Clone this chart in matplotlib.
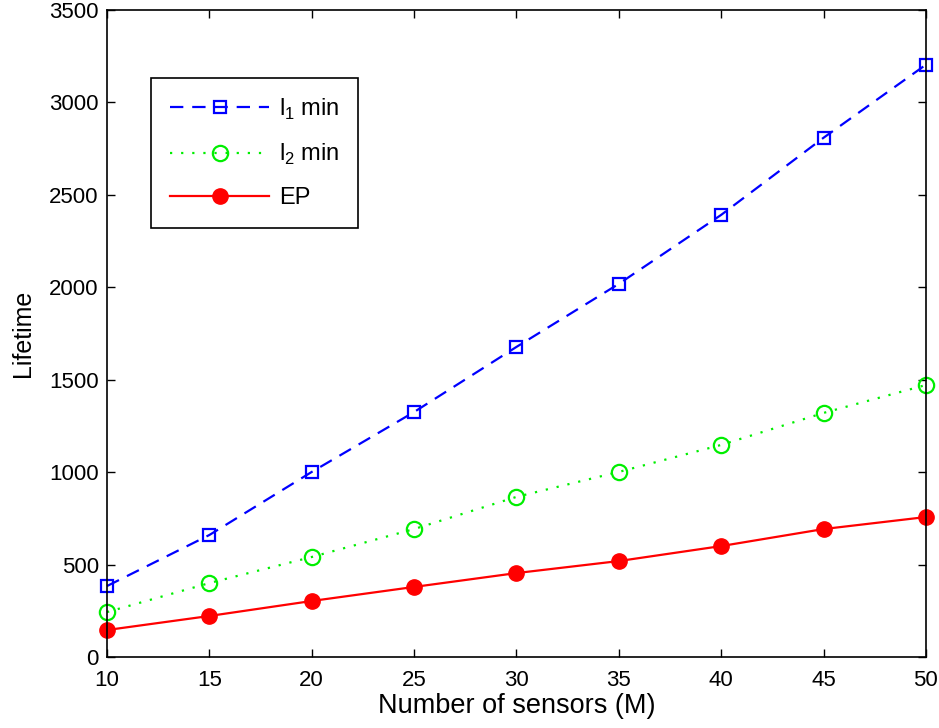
import matplotlib
matplotlib.use("Agg")
import matplotlib.pyplot as plt

plt.rcParams['font.family'] = ['Liberation Sans', 'DejaVu Sans']
plt.rcParams['mathtext.fontset'] = 'custom'
plt.rcParams['mathtext.rm'] = 'Liberation Sans'

sensors = [10, 15, 20, 25, 30, 35, 40, 45, 50]
l1_min = [384, 660, 1001, 1325, 1677, 2018, 2391, 2808, 3203]
l2_min = [243, 400, 541, 692, 866, 1001, 1147, 1320, 1471]
ep = [146, 222, 303, 379, 454, 519, 600, 692, 757]
xticks = [10, 15, 20, 25, 30, 35, 40, 45, 50]
yticks = [0, 500, 1000, 1500, 2000, 2500, 3000, 3500]

fig = plt.figure(figsize=(9.39, 7.28), dpi=100)
ax = fig.add_axes([0.114, 0.0975, 0.872, 0.889])

ax.plot(sensors, l1_min, color='#0000ff', linestyle=(0, (6, 4)), linewidth=1.6,
        marker='s', markersize=9, markerfacecolor='none', markeredgewidth=1.6,
        label='l$_1$ min', clip_on=False)
ax.plot(sensors, l2_min, color='#00ee00', linestyle=(0, (1, 4)), linewidth=1.6,
        marker='o', markersize=11, markerfacecolor='none', markeredgewidth=1.6,
        label='l$_2$ min', clip_on=False)
ax.plot(sensors, ep, color='#ff0000', linestyle='-', linewidth=1.6,
        marker='o', markersize=11, markerfacecolor='#ff0000', markeredgecolor='#ff0000',
        label='EP', clip_on=False)

ax.set_xlim(10, 50)
ax.set_ylim(0, 3500)
ax.set_xticks(xticks)
ax.set_yticks(yticks)
ax.tick_params(direction='in', top=True, right=True, labelsize=16, length=6, width=1)
ax.tick_params(axis='x', pad=9)
ax.tick_params(axis='y', pad=6)
for s in ax.spines.values():
    s.set_linewidth(1.2)
ax.set_xlabel('Number of sensors (M)', fontsize=19.5, labelpad=2)
ax.set_ylabel('Lifetime', fontsize=18, labelpad=10)

leg = ax.legend(loc='upper left', bbox_to_anchor=(0.054, 0.895), borderaxespad=0,
                fontsize=17, handlelength=4.2, handletextpad=0.4, fancybox=False,
                framealpha=1, edgecolor='black', labelspacing=0.85, borderpad=0.8)
leg.get_frame().set_linewidth(1.2)
# widen legend frame slightly to the right as in the reference
fig.canvas.draw()
bb = leg.get_window_extent()

fig.savefig('out.png', dpi=100)
